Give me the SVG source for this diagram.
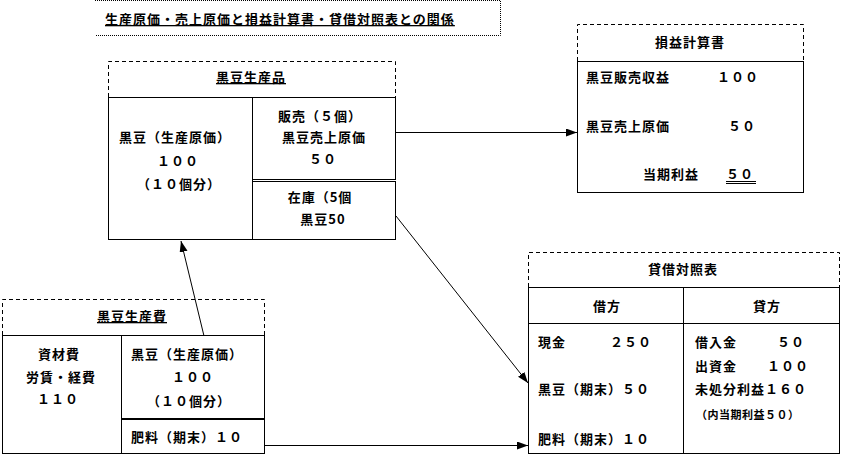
<svg xmlns="http://www.w3.org/2000/svg" width="841" height="456" viewBox="0 0 841 456">
<style>
text{font-family:"Noto Sans CJK JP","Noto Sans CJK SC",sans-serif;font-weight:bold;font-size:13px;fill:#000;letter-spacing:1px}
.m{text-anchor:middle}
.u{text-decoration:underline}
.s{font-size:11px;letter-spacing:0.5px}
.box{fill:#fff;stroke:#000;stroke-width:1}
.dash{fill:none;stroke:#000;stroke-width:1;stroke-dasharray:4 3}
.dot{fill:none;stroke:#000;stroke-width:1;stroke-dasharray:1 1}
.ln{fill:none;stroke:#000;stroke-width:1}
.conn line{stroke:#000;stroke-width:1;marker-end:url(#ah)}
</style>
<defs>
<marker id="ah" markerUnits="userSpaceOnUse" markerWidth="12" markerHeight="10" refX="11" refY="4" orient="auto">
<path d="M0,0 L11,4 L0,8 Z" fill="#000"/>
</marker>
</defs>
<rect width="841" height="456" fill="#fff"/>

<g id="title">
<path class="dot" d="M95,0.5 H500.5 V35.5 H95"/>
<text x="105" y="24" class="u">生産原価・売上原価と損益計算書・貸借対照表との関係</text>
</g>

<g id="seisanhin">
<path class="dash" d="M108.5,97 V61.5 H395.5 V97"/>
<text x="251" y="82" class="m u">黒豆生産品</text>
<rect class="box" x="108.5" y="97.5" width="144" height="142"/>
<rect class="box" x="252.5" y="97.5" width="143" height="82"/>
<rect class="box" x="252.5" y="181.5" width="143" height="58"/>
<text x="175" y="142" class="m">黒豆（生産原価）</text>
<text x="178" y="166" class="m">１００</text>
<text x="179" y="189" class="m">（１０個分）</text>
<text x="320" y="121" class="m">販売（５個）</text>
<text x="324" y="142" class="m">黒豆売上原価</text>
<text x="323" y="164" class="m">５０</text>
<text x="320" y="202" class="m">在庫（5個</text>
<text x="323" y="224" class="m">黒豆50</text>
</g>

<g id="pl">
<path class="dash" d="M577.5,61 V24.5 H803.5 V61"/>
<text x="690" y="47" class="m">損益計算書</text>
<rect class="box" x="577.5" y="61.5" width="226" height="131"/>
<text x="586" y="82">黒豆販売収益</text>
<text x="717" y="82">１００</text>
<text x="586" y="131">黒豆売上原価</text>
<text x="728" y="131">５０</text>
<text x="643" y="179">当期利益</text>
<text x="726" y="179">５０</text>
<line class="ln" x1="726" y1="181.5" x2="756" y2="181.5"/>
<line class="ln" x1="726" y1="183.5" x2="756" y2="183.5"/>
</g>

<g id="bs">
<path class="dash" d="M528.5,287 V252.5 H839.5 V287"/>
<text x="683" y="274" class="m">貸借対照表</text>
<rect class="box" x="528.5" y="287.5" width="311" height="166"/>
<line class="ln" x1="683.5" y1="287" x2="683.5" y2="454"/>
<line class="ln" x1="528" y1="323.5" x2="840" y2="323.5"/>
<text x="607" y="311" class="m">借方</text>
<text x="767" y="311" class="m">貸方</text>
<text x="538" y="347">現金</text>
<text x="610" y="347">２５０</text>
<text x="538" y="394">黒豆（期末）５０</text>
<text x="538" y="444">肥料（期末）１０</text>
<text x="695" y="347">借入金</text>
<text x="777" y="347">５０</text>
<text x="695" y="371">出資金</text>
<text x="767" y="371">１００</text>
<text x="695" y="394">未処分利益１６０</text>
<text x="696" y="419" class="s">（内当期利益５０）</text>
</g>

<g id="seisanhi">
<path class="dash" d="M2.5,335 V299.5 H264.5 V335"/>
<text x="132" y="321" class="m u">黒豆生産費</text>
<rect class="box" x="2.5" y="335.5" width="262" height="118"/>
<line class="ln" x1="121.5" y1="335" x2="121.5" y2="454"/>
<line x1="121" y1="419" x2="265" y2="419" stroke="#000" stroke-width="2"/>
<text x="59" y="359" class="m">資材費</text>
<text x="61" y="382" class="m">労賃・経費</text>
<text x="58" y="404" class="m">１１０</text>
<text x="187" y="359" class="m">黒豆（生産原価）</text>
<text x="193" y="382" class="m">１００</text>
<text x="189" y="406" class="m">（１０個分）</text>
<text x="131" y="442">肥料（期末）１０</text>
</g>

<g id="connectors" class="conn">
<line x1="396" y1="132.5" x2="577" y2="132.5"/>
<line x1="396" y1="216" x2="528" y2="383"/>
<line x1="265" y1="445.5" x2="528" y2="445.5"/>
<line x1="204" y1="336" x2="181" y2="241"/>
</g>
</svg>
